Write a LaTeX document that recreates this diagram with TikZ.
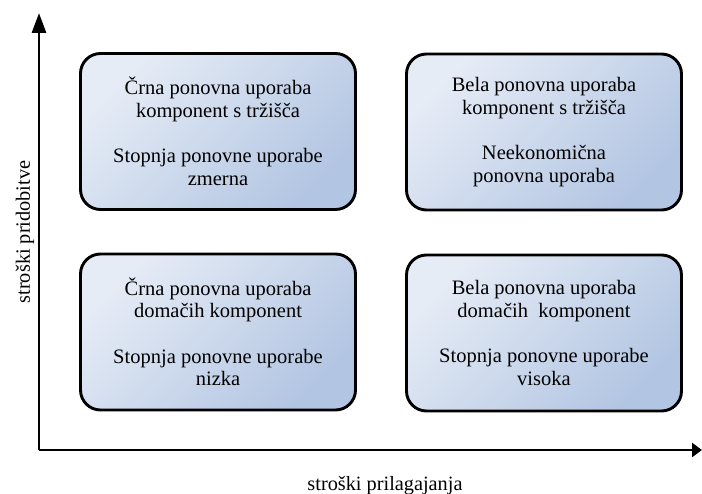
\documentclass[tikz,border=0pt]{standalone}
\usepackage{fontspec}
\setmainfont{Liberation Serif}
\usetikzlibrary{arrows.meta}
\definecolor{boxlight}{RGB}{230,236,246}
\definecolor{boxdark}{RGB}{178,197,226}
\begin{document}
\begin{tikzpicture}[x=1pt,y=-1pt,
  quadrant/.style={draw=black, line width=2.9pt, rounded corners=20pt,
    shading=axis, top color=boxlight, bottom color=boxdark, shading angle=45,
    minimum width=275pt, minimum height=156pt, align=center, inner sep=0pt,
    font=\fontsize{20.5}{22.5}\selectfont},
  axis/.style={line width=2.9pt},
  axislabel/.style={font=\fontsize{20.3}{23}\selectfont}]
  \useasboundingbox (0,0) rectangle (702,494);

  % axes
  \coordinate (origin) at (39,450);
  \coordinate (ytip) at (39,13);
  \coordinate (xtip) at (702,450);
  \draw[axis, -{Triangle[length=20pt,width=14pt]}] (origin) -- (ytip);
  \draw[axis, -{Triangle[length=10pt,width=14pt]}] (origin) -- (xtip);

  \node[axislabel] (xlab) at (385,486) {stroški prilagajanja};
  \node[axislabel, rotate=90] (ylab) at (25,232) {stroški pridobitve};

  % quadrants
  \node[quadrant] (tl) at (218,131.5)
    {Črna ponovna uporaba\\komponent s tržišča\\[23pt]Stopnja ponovne uporabe\\zmerna};
  \node[quadrant] (tr) at (544,132)
    {Bela ponovna uporaba\\komponent s tržišča\\[23pt]Neekonomična\\ponovna uporaba};
  \node[quadrant] (bl) at (218,332)
    {Črna ponovna uporaba\\domačih komponent\\[23pt]Stopnja ponovne uporabe\\nizka};
  \node[quadrant] (br) at (544,333)
    {Bela ponovna uporaba\\domačih\ \ komponent\\[23pt]Stopnja ponovne uporabe\\visoka};
\end{tikzpicture}
\end{document}
